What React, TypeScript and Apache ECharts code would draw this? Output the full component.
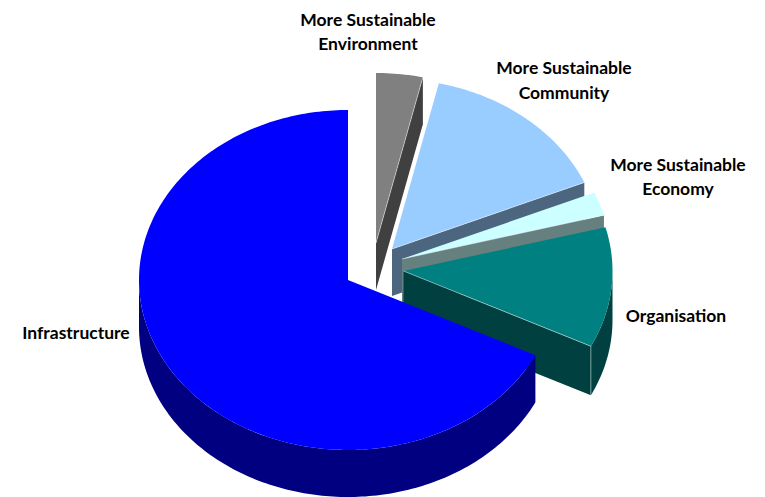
import React, { useEffect, useRef } from "react";
import * as echarts from "echarts";

// Share of each theme, clockwise from twelve o'clock.
const categories = [
  "More Sustainable\nEnvironment",
  "More Sustainable\nCommunity",
  "More Sustainable\nEconomy",
  "Organisation",
  "Infrastructure",
];
const shares = [3.6, 15.0, 2.25, 11.45, 67.7];
const topColors = ["#808080", "#99CCFF", "#CCFFFF", "#008080", "#0000FF"];
const sideColors = ["#404040", "#4D6680", "#668080", "#004040", "#000080"];

// Pie geometry: ellipse radii, wall depth and where each exploded slice's apex sits.
const RX = 209;
const RY = 170;
const wallDepths = [47, 47, 47, 49, 47];
const apexX = [376, 392, 402, 403.5, 348];
const apexY = [243, 249, 259, 271, 280];
const labelX = [368, 564, 678, 676, 76];
const labelY = [31.5, 80, 176.5, 315, 332];
const LABEL_FONT = "Lato";
const LABEL_SIZE = 17.5;

const total = shares.reduce((a, b) => a + b, 0);
const DEG = Math.PI / 180;

function rimPoints(cx: number, cy: number, from: number, to: number, dy = 0) {
  const steps = Math.max(2, Math.ceil(Math.abs(to - from)));
  const pts: number[][] = [];
  for (let i = 0; i <= steps; i++) {
    const a = (from + ((to - from) * i) / steps) * DEG;
    pts.push([cx + RX * Math.sin(a), cy - RY * Math.cos(a) + dy]);
  }
  return pts;
}

function renderSlice(params: any, api: any) {
  const i = params.dataIndex;
  const before = shares.slice(0, i).reduce((a, b) => a + b, 0);
  const start = (before / total) * 360;
  const end = ((before + api.value(0)) / total) * 360;
  const cx = apexX[i];
  const cy = apexY[i];
  const depth = wallDepths[i];
  const children: any[] = [];
  const side = sideColors[i];

  // Cut face along the closing edge; it faces the viewer only on the right half.
  if (end < 180) {
    const [rim] = rimPoints(cx, cy, end, end);
    children.push({
      type: "polygon",
      shape: {
        points: [
          [cx, cy],
          rim,
          [rim[0], rim[1] + depth],
          [cx, cy + depth],
        ],
      },
      style: { fill: side },
    });
  }

  // Outer wall: only the part of the rim on the near half of the ellipse.
  const wallFrom = Math.max(start, 90);
  const wallTo = Math.min(end, 270);
  if (wallFrom < wallTo) {
    const upper = rimPoints(cx, cy, wallFrom, wallTo);
    const lower = rimPoints(cx, cy, wallFrom, wallTo, depth).reverse();
    children.push({
      type: "polygon",
      shape: { points: [...upper, ...lower] },
      style: { fill: side },
    });
  }

  // Top face.
  children.push({
    type: "polygon",
    shape: { points: [[cx, cy], ...rimPoints(cx, cy, start, end)] },
    style: { fill: topColors[i] },
  });

  // Thin highlight where the top meets the cut face.
  if (end < 180) {
    const [rim] = rimPoints(cx, cy, end, end);
    children.push({
      type: "polyline",
      shape: {
        points: wallFrom < wallTo
          ? [[cx, cy], rim, [rim[0], rim[1] + depth]]
          : [[cx, cy], rim],
      },
      style: { stroke: "rgba(255,255,255,0.65)", lineWidth: 0.7, fill: "none" },
    });
  }

  children.push({
    type: "text",
    style: {
      text: categories[i],
      x: labelX[i],
      y: labelY[i],
      align: "center",
      verticalAlign: "middle",
      fontFamily: LABEL_FONT,
      fontWeight: 700,
      fontSize: LABEL_SIZE,
      lineHeight: 24.5,
      fill: "#000000",
    },
  });

  return { type: "group", children };
}

export default function App() {
  const ref = useRef<HTMLDivElement>(null);

  useEffect(() => {
    const chart = echarts.init(ref.current!, undefined, { renderer: "svg" });
    chart.setOption({
      animation: false,
      backgroundColor: "#ffffff",
      series: [
        {
          type: "custom",
          coordinateSystem: "none",
          renderItem: renderSlice,
          silent: true,
          data: categories.map((name, i) => ({ name, value: shares[i] })),
        },
      ],
    });
    return () => chart.dispose();
  }, []);

  return (
    <div
      ref={ref}
      style={{ position: "fixed", left: 0, top: 0, width: 765, height: 497 }}
    />
  );
}
